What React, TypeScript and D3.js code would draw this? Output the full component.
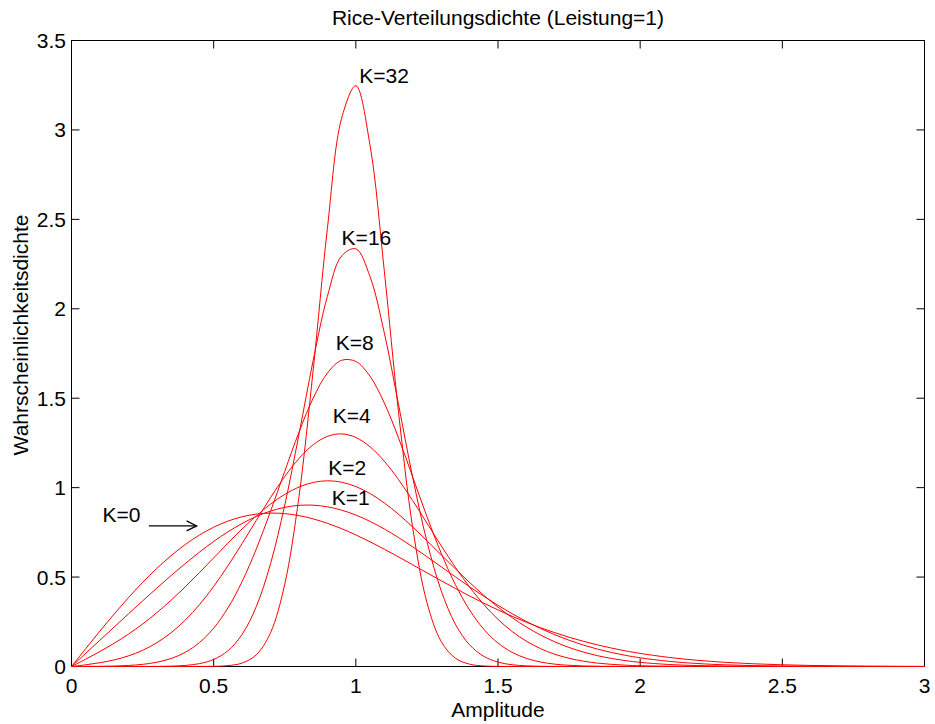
import React from "react";
import * as d3 from "d3";

// Amplitude grid (x values)
const xs = [0, 0.05, 0.1, 0.15, 0.2, 0.25, 0.3, 0.35, 0.4, 0.45, 0.5, 0.55, 0.6, 0.65, 0.7, 0.75, 0.8, 0.85, 0.9, 0.95, 1.0, 1.05, 1.1, 1.15, 1.2, 1.25, 1.3, 1.35, 1.4, 1.45, 1.5, 1.55, 1.6, 1.65, 1.7, 1.75, 1.8, 1.85, 1.9, 1.95, 2.0, 2.1, 2.2, 2.3, 2.4, 2.5, 2.6, 2.7, 2.8, 2.9, 3.0];

// Density values read for each Rice factor K
const k0 = [0, 0.0998, 0.198, 0.2933, 0.3843, 0.4697, 0.5484, 0.6193, 0.6817, 0.7351, 0.7788, 0.8128, 0.8372, 0.8521, 0.8577, 0.8547, 0.8437, 0.8253, 0.8005, 0.7706, 0.7358, 0.6973, 0.6561, 0.6129, 0.5686, 0.524, 0.4798, 0.4363, 0.3944, 0.3541, 0.3162, 0.2806, 0.2474, 0.2167, 0.189, 0.1637, 0.141, 0.1207, 0.1028, 0.087, 0.0733, 0.0511, 0.0348, 0.0232, 0.0151, 0.0096, 0.006, 0.0037, 0.0022, 0.0013, 0.0007];
const k1 = [0, 0.0736, 0.1471, 0.2206, 0.2939, 0.3665, 0.4381, 0.5081, 0.5755, 0.6395, 0.6989, 0.7526, 0.7995, 0.8386, 0.869, 0.89, 0.901, 0.902, 0.8929, 0.8743, 0.8468, 0.8114, 0.7691, 0.7213, 0.6692, 0.6139, 0.5577, 0.5013, 0.446, 0.3926, 0.342, 0.2948, 0.2515, 0.2123, 0.1774, 0.1467, 0.12, 0.0972, 0.078, 0.0619, 0.0486, 0.0291, 0.0167, 0.0092, 0.0049, 0.0025, 0.0012, 0.0006, 0.0003, 0.0001, 0];
const k2 = [0, 0.0409, 0.0836, 0.1298, 0.1807, 0.2376, 0.3008, 0.3703, 0.4455, 0.5251, 0.6071, 0.6893, 0.769, 0.8421, 0.9079, 0.9624, 1.0034, 1.0289, 1.038, 1.0303, 1.0061, 0.967, 0.9146, 0.8514, 0.7802, 0.7037, 0.6248, 0.5462, 0.47, 0.3982, 0.3322, 0.2728, 0.2207, 0.1757, 0.1378, 0.1064, 0.0809, 0.0606, 0.0447, 0.0324, 0.0232, 0.0113, 0.0052, 0.0023, 0.0009, 0.0004, 0.0001, 0, 0, 0, 0];
const k4 = [0, 0.0095, 0.0211, 0.0369, 0.0592, 0.0904, 0.1328, 0.1885, 0.2591, 0.3456, 0.4474, 0.5626, 0.6875, 0.817, 0.9443, 1.0622, 1.1629, 1.2396, 1.2865, 1.3006, 1.2805, 1.2283, 1.1479, 1.0452, 0.9275, 0.802, 0.6759, 0.5551, 0.4443, 0.3467, 0.2637, 0.1955, 0.1413, 0.0996, 0.0684, 0.0458, 0.0299, 0.019, 0.0118, 0.0071, 0.0042, 0.0014, 0.0004, 0.0001, 0, 0, 0, 0, 0, 0, 0];
const k8 = [0, 0.0004, 0.001, 0.0025, 0.0057, 0.012, 0.0238, 0.0447, 0.0793, 0.1338, 0.2144, 0.327, 0.475, 0.6575, 0.8674, 1.0914, 1.3101, 1.5007, 1.6405, 1.712, 1.7055, 1.6224, 1.4738, 1.2787, 1.0596, 0.8387, 0.6341, 0.458, 0.3161, 0.2083, 0.1312, 0.079, 0.0454, 0.025, 0.0131, 0.0066, 0.0032, 0.0015, 0.0006, 0.0003, 0.0001, 0, 0, 0, 0, 0, 0, 0, 0, 0, 0];
const k16 = [0, 0, 0, 0, 0, 0.0002, 0.0006, 0.002, 0.006, 0.0161, 0.0393, 0.0878, 0.1793, 0.3354, 0.5747, 0.9021, 1.2977, 1.7114, 2.0696, 2.2954, 2.3352, 2.1794, 1.8662, 1.4661, 1.0571, 0.6995, 0.4248, 0.2368, 0.1211, 0.0569, 0.0245, 0.0097, 0.0035, 0.0012, 0.0004, 0.0001, 0, 0, 0, 0, 0, 0, 0, 0, 0, 0, 0, 0, 0, 0, 0];
const k32 = [0, 0, 0, 0, 0, 0, 0, 0, 0, 0.0002, 0.001, 0.0048, 0.0192, 0.0655, 0.1888, 0.4603, 0.9496, 1.658, 2.4501, 3.0653, 3.2474, 2.9131, 2.2134, 1.4244, 0.7766, 0.3587, 0.1403, 0.0465, 0.0131, 0.0031, 0.0006, 0.0001, 0, 0, 0, 0, 0, 0, 0, 0, 0, 0, 0, 0, 0, 0, 0, 0, 0, 0, 0];

const series = [k0, k1, k2, k4, k8, k16, k32];

// Tick labels
const xTicks = [0, 0.5, 1, 1.5, 2, 2.5, 3];
const yTicks = [0, 0.5, 1, 1.5, 2, 2.5, 3, 3.5];

// Curve annotations (text, anchor in data units)
const labelText = ["K=32", "K=16", "K=8", "K=4", "K=2", "K=1", "K=0"];
const labelX = [1.012, 0.95, 0.929, 0.919, 0.903, 0.915, 0.109];
const labelY = [3.261, 2.356, 1.769, 1.361, 1.071, 0.903, 0.808];
const arrowX = [0.272, 0.44];
const arrowY = 0.786;

const title = "Rice-Verteilungsdichte (Leistung=1)";
const xTitle = "Amplitude";
const yTitle = "Wahrscheinlichkeitsdichte";

const W = 935;
const H = 724;
const L = 71.5;
const R = 924.5;
const T = 40.5;
const B = 666.5;
const FONT = "'Liberation Sans', Arial, Helvetica, sans-serif";
const FS = 21;
const TICK = 8;

export default function App() {
  const x = d3.scaleLinear().domain([0, 3]).range([L, R]);
  const y = d3.scaleLinear().domain([0, 3.5]).range([B, T]);
  const line = d3
    .line<number>()
    .x((_, i) => x(xs[i]))
    .y((v) => Math.min(B, y(v)))
    .curve(d3.curveCatmullRom.alpha(0.5));

  const ax1 = x(arrowX[0]);
  const ax2 = x(arrowX[1]);
  const ay = y(arrowY);

  return (
    <svg
      width={W}
      height={H}
      style={{ position: "absolute", left: 0, top: 0, background: "#fff" }}
      fontFamily={FONT}
    >
      <rect x={0} y={0} width={W} height={H} fill="#fff" />
      {/* axes box */}
      <rect x={L} y={T} width={R - L} height={B - T} fill="none" stroke="#000" strokeWidth={1} />
      {xTicks.map((t) => (
        <g key={"xt" + t}>
          <line x1={x(t)} x2={x(t)} y1={B} y2={B - TICK} stroke="#000" />
          <line x1={x(t)} x2={x(t)} y1={T} y2={T + TICK} stroke="#000" />
          <text x={x(t)} y={693} fontSize={FS} textAnchor="middle" fill="#000">
            {String(t)}
          </text>
        </g>
      ))}
      {yTicks.map((t) => (
        <g key={"yt" + t}>
          <line x1={L} x2={L + TICK} y1={y(t)} y2={y(t)} stroke="#000" />
          <line x1={R} x2={R - TICK} y1={y(t)} y2={y(t)} stroke="#000" />
          <text x={66} y={y(t) + 7.5} fontSize={FS} textAnchor="end" fill="#000">
            {String(t)}
          </text>
        </g>
      ))}
      {/* curves */}
      {series.map((s, i) => (
        <path key={"s" + i} d={line(s) || ""} fill="none" stroke="#ff0000" strokeWidth={1} />
      ))}
      {/* annotations */}
      {labelText.map((t, i) => (
        <text key={"lb" + i} x={x(labelX[i])} y={y(labelY[i])} fontSize={FS} fill="#000">
          {t}
        </text>
      ))}
      <line x1={ax1} x2={ax2} y1={ay} y2={ay} stroke="#000" strokeWidth={1.3} />
      <polyline
        points={`${ax2 - 10},${ay - 5} ${ax2},${ay} ${ax2 - 10},${ay + 5}`}
        fill="none"
        stroke="#000"
        strokeWidth={1.3}
      />
      {/* titles */}
      <text x={(L + R) / 2} y={25} fontSize={FS} textAnchor="middle" fill="#000">
        {title}
      </text>
      <text x={(L + R) / 2} y={717} fontSize={FS} textAnchor="middle" fill="#000">
        {xTitle}
      </text>
      <text
        transform={`translate(28,335) rotate(-90)`}
        fontSize={FS}
        textAnchor="middle"
        fill="#000"
      >
        {yTitle}
      </text>
    </svg>
  );
}
